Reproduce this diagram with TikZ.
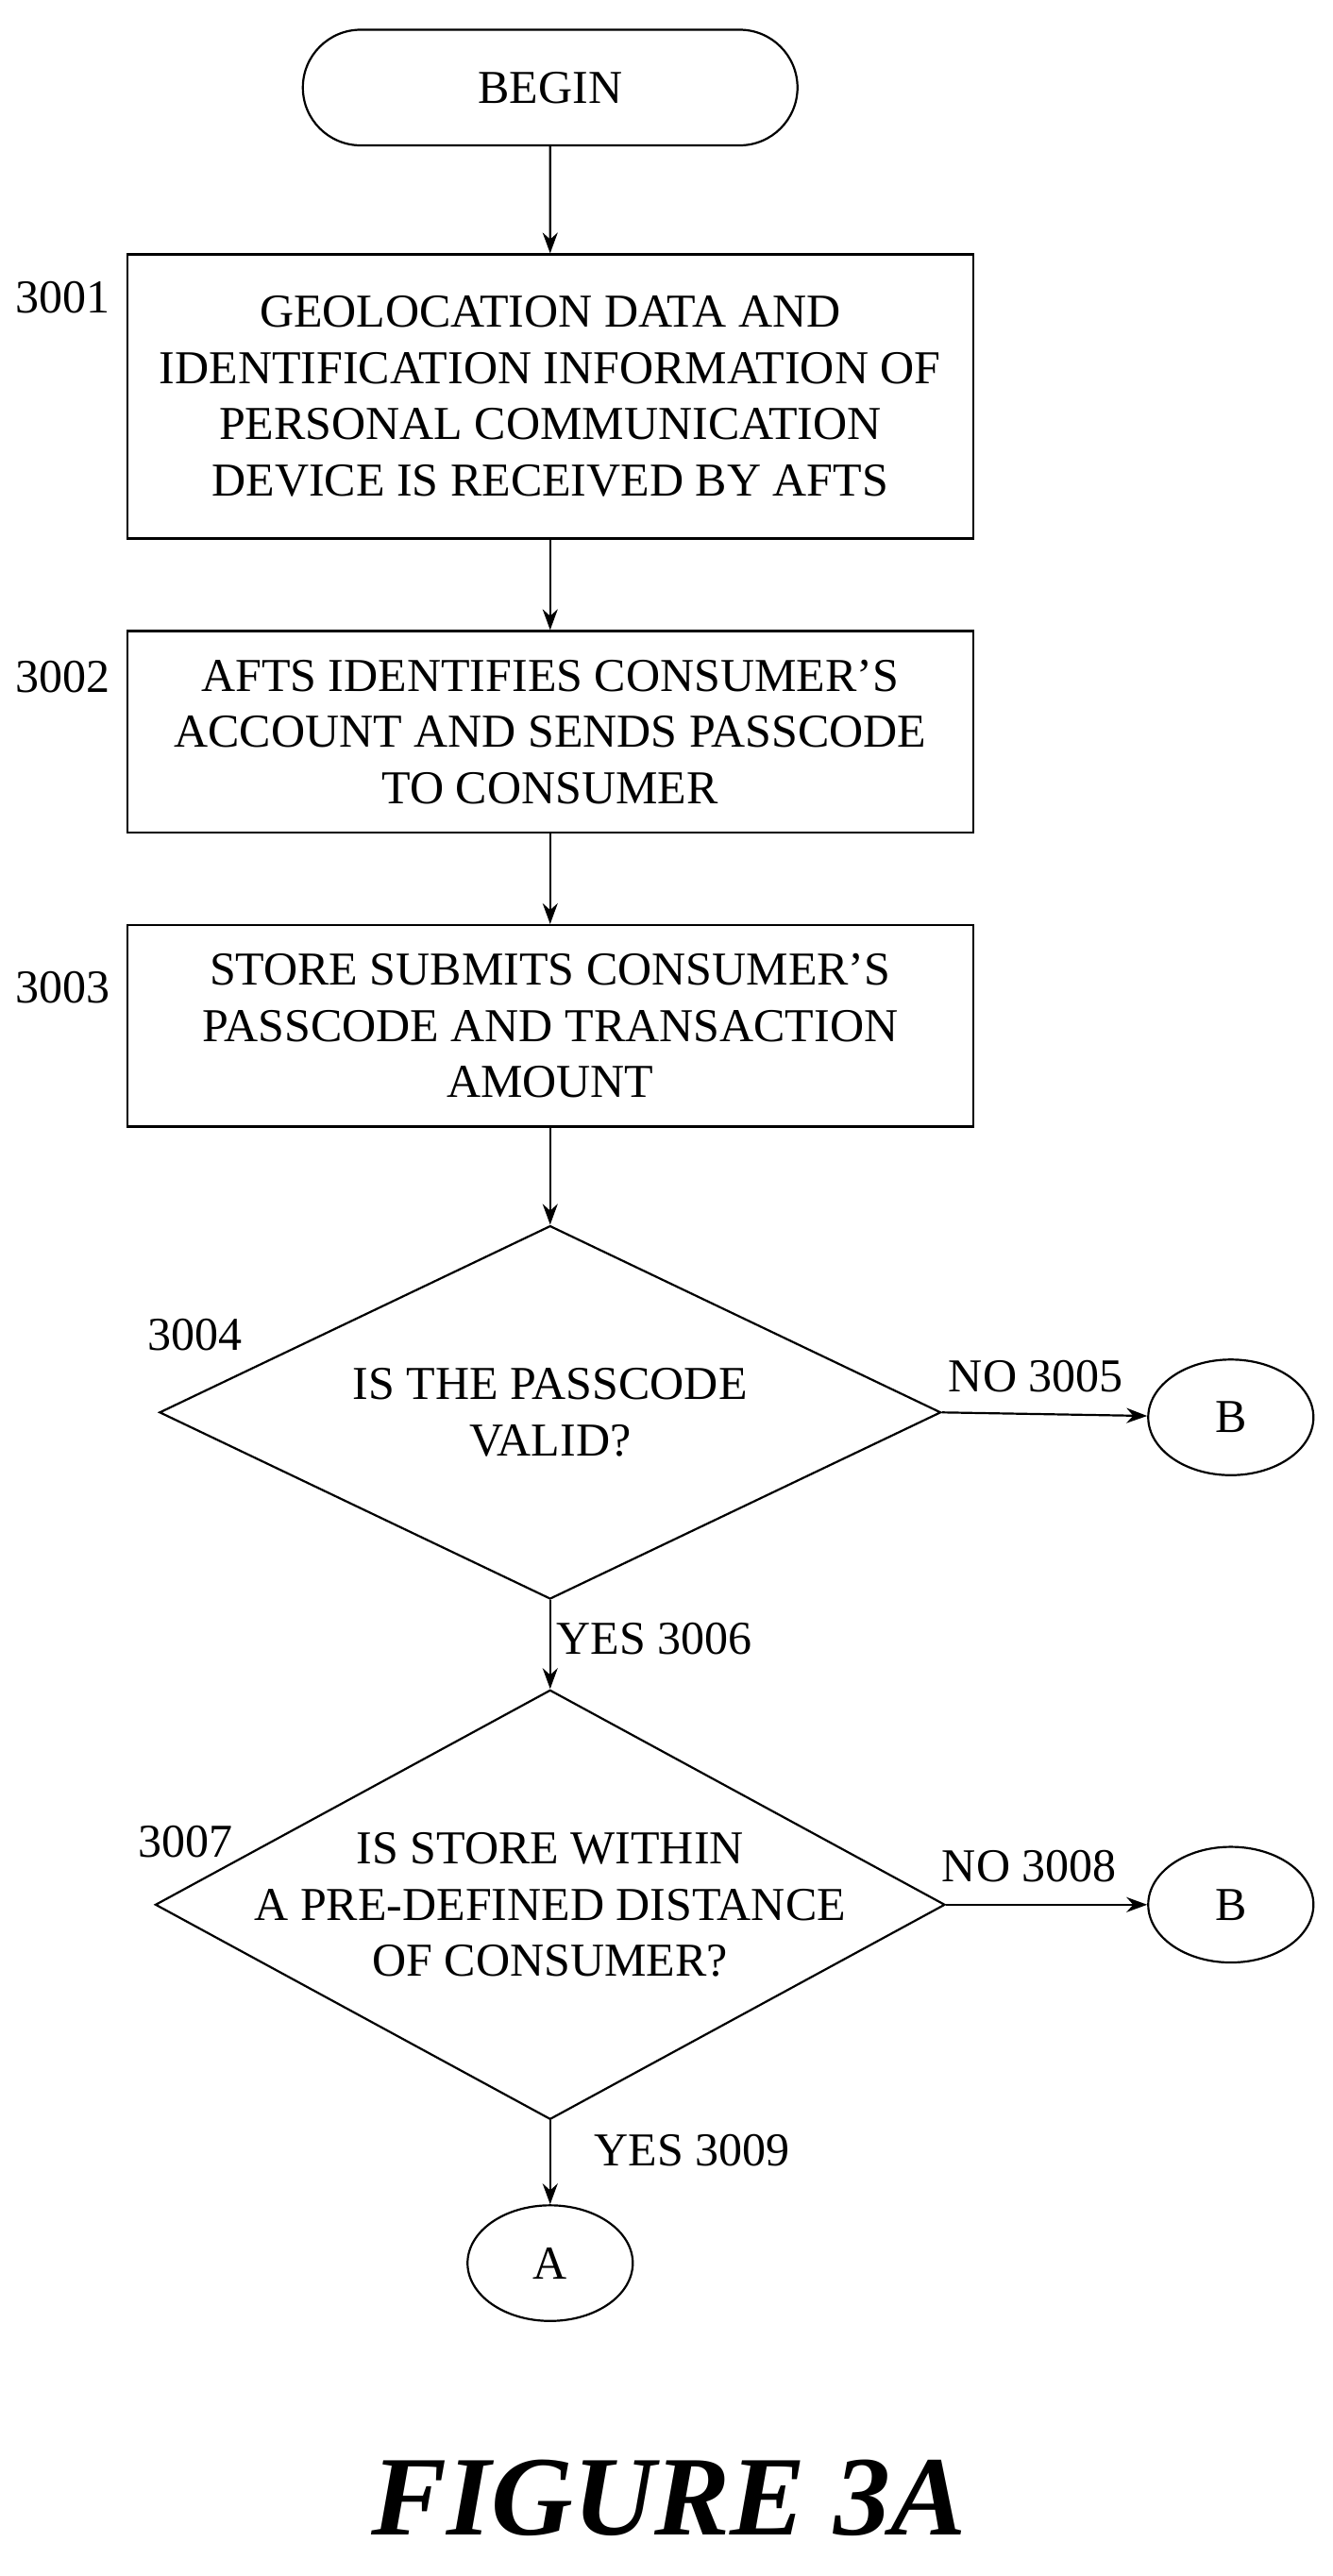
\documentclass[tikz,border=0pt]{standalone}
\usepackage{fontspec}
\setmainfont{Liberation Serif}
\usetikzlibrary{shapes.geometric,shapes.misc,arrows.meta}
\begin{document}
\begin{tikzpicture}[x=0.875pt,y=-0.875pt,line width=1.1pt,
  every node/.style={font=\fontsize{25}{29.8}\selectfont},
  box/.style={draw,rectangle,minimum width=512*0.875pt,align=center,inner sep=0pt},
  dia/.style={draw,diamond,inner sep=0pt},
  circ/.style={draw,ellipse,minimum width=100*0.875pt,minimum height=70*0.875pt,inner sep=0pt},
  arr/.style={-{Stealth[length=11pt,width=8pt]}},
  lab/.style={inner sep=0pt}]
\useasboundingbox (0,0) rectangle (806.3,1559.4);
\node[draw,rounded rectangle,minimum width=307*0.875pt,minimum height=70*0.875pt] (begin) at (333,53) {BEGIN};
\node[box,minimum height=172*0.875pt] (b1) at (333,240) {GEOLOCATION DATA AND\\IDENTIFICATION INFORMATION OF\\PERSONAL COMMUNICATION\\DEVICE IS RECEIVED BY AFTS};
\node[box,minimum height=122*0.875pt] (b2) at (333,443) {AFTS IDENTIFIES CONSUMER'S\\ACCOUNT AND SENDS PASSCODE\\TO CONSUMER};
\node[box,minimum height=122*0.875pt] (b3) at (333,621) {STORE SUBMITS CONSUMER'S\\PASSCODE AND TRANSACTION\\AMOUNT};
\node[dia,minimum width=473*0.875pt,minimum height=226*0.875pt] (d1) at (333,855) {};
\node[align=center] (t1) at (d1) {IS THE PASSCODE\\VALID?};
\node[dia,minimum width=478*0.875pt,minimum height=260*0.875pt] (d2) at (333,1153) {};
\node[align=center] (t2) at (d2) {IS STORE WITHIN\\A PRE-DEFINED DISTANCE\\OF CONSUMER?};
\node[circ] (B1) at (745,858) {B};
\node[circ] (B2) at (745,1153) {B};
\node[circ] (A) at (333,1370) {A};
\node[lab] (l1) at (38,180) {3001};
\node[lab] (l2) at (38,410) {3002};
\node[lab] (l3) at (38,598) {3003};
\node[lab] (l4) at (118,808) {3004};
\node[lab] (l7) at (112,1115) {3007};
\node[lab] (n5) at (627,833) {NO 3005};
\node[lab] (y6) at (396,992) {YES 3006};
\node[lab] (n8) at (623,1130) {NO 3008};
\node[lab] (y9) at (419,1302) {YES 3009};
\node[lab,font=\fontsize{60}{60}\selectfont\bfseries\itshape] (fig) at (405,1512) {FIGURE 3A};
\draw[arr] (begin) -- (b1);
\draw[arr] (b1) -- (b2);
\draw[arr] (b2) -- (b3);
\draw[arr] (b3) -- (d1.north);
\draw[arr] (d1.east) -- (B1);
\draw[arr] (d1.south) -- (d2.north);
\draw[arr] (d2.east) -- (B2);
\draw[arr] (d2.south) -- (A);
\end{tikzpicture}
\end{document}
